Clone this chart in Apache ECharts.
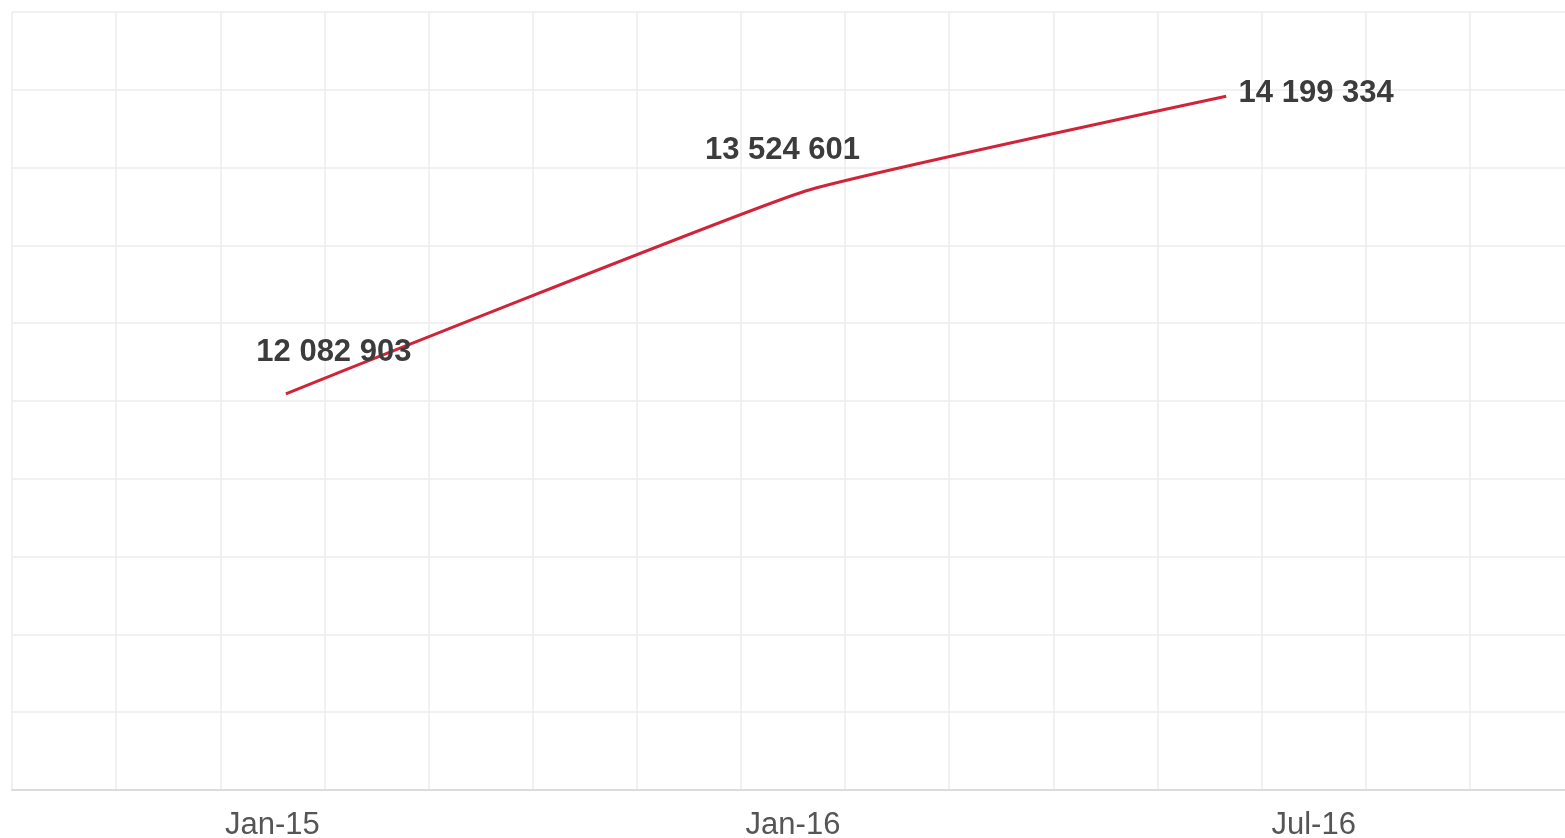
<!DOCTYPE html>
<html>
<head>
<meta charset="utf-8">
<script src="https://cdn.jsdelivr.net/npm/echarts@6/dist/echarts.min.js"></script>
<style>
html,body{margin:0;padding:0;background:#fff;}
#chart{width:1565px;height:838px;}
</style>
</head>
<body>
<div id="chart"></div>
<script>
// ---- data ----
var tickPositions = [2.5, 7.5, 12.5];
var tickLabels = ['Jan-15', 'Jan-16', 'Jul-16'];
var pointPositions = [2.63, 7.62, 11.66];
var seriesValues = [12082903, 13524601, 14199334];

// ---- styling (not data) ----
var labelOffsets = [[48, -41], [-23, -41], [90, -3]];

function fmt(v) {
  return String(v).replace(/\B(?=(\d{3})+(?!\d))/g, ' ');
}

var lineData = seriesValues.map(function (v, i) {
  return {
    value: [pointPositions[i], v],
    label: { offset: labelOffsets[i] }
  };
});

var chart = echarts.init(document.getElementById('chart'));
chart.setOption({
  backgroundColor: '#ffffff',
  animation: false,
  grid: { left: 12, top: 12, width: 1562, height: 778, containLabel: false, outerBoundsMode: 'none' },
  xAxis: [{
    type: 'value',
    min: 0,
    max: 15,
    interval: 1,
    axisLine: { show: true, onZero: false, lineStyle: { color: '#dcdcdc', width: 2 } },
    axisTick: { show: false },
    splitLine: { show: true, lineStyle: { color: '#ececec', width: 1.5 } },
    axisLabel: {
      show: true,
      customValues: tickPositions,
      formatter: function (val) {
        for (var i = 0; i < tickPositions.length; i++) {
          if (Math.abs(tickPositions[i] - val) < 1e-6) return tickLabels[i];
        }
        return '';
      },
      color: '#555555',
      fontFamily: 'Liberation Sans, Arial, sans-serif',
      fontSize: 31,
      margin: 20
    }
  }],
  yAxis: [{
    type: 'value',
    min: 0,
    max: 10,
    interval: 1,
    axisLine: { show: false },
    axisTick: { show: false },
    axisLabel: { show: false },
    splitLine: { show: true, lineStyle: { color: '#ececec', width: 1.5 } }
  }, {
    type: 'value',
    show: false,
    min: 9265000,
    max: 14798000,
    splitLine: { show: false }
  }],
  series: [{
    type: 'line',
    xAxisIndex: 0,
    yAxisIndex: 1,
    data: lineData,
    symbol: 'circle',
    symbolSize: 1,
    showSymbol: true,
    itemStyle: { color: 'rgba(0,0,0,0)' },
    lineStyle: { color: '#d0243a', width: 3 },
    smooth: 0.12,
    label: {
      show: true,
      position: 'inside',
      formatter: function (p) { return fmt(p.value[1]); },
      color: '#3c3c3c',
      fontFamily: 'Liberation Sans, Arial, sans-serif',
      fontWeight: 'bold',
      fontSize: 31
    },
    emphasis: { disabled: true }
  }]
});
</script>
</body>
</html>
